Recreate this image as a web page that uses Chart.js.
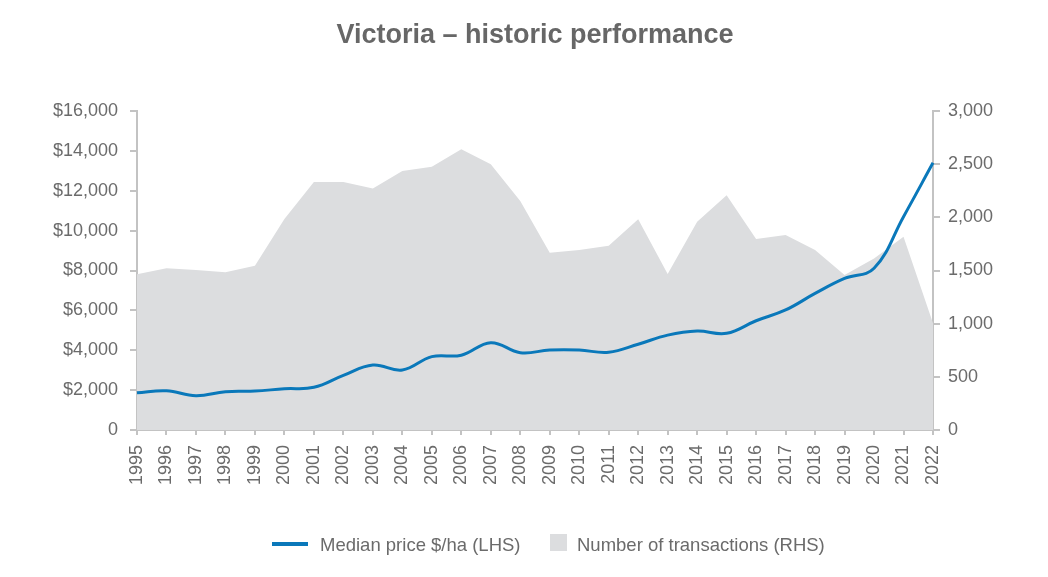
<!DOCTYPE html>
<html>
<head>
<meta charset="utf-8">
<script src="https://cdn.jsdelivr.net/npm/chart.js@4.4.1/dist/chart.umd.min.js"></script>
<style>
  html, body { margin: 0; padding: 0; background: #ffffff; }
  #wrap { position: relative; width: 1048px; height: 577px; font-family: "Liberation Sans", Arial, sans-serif; }
  #c { position: absolute; left: 0; top: 0; }
  #title { position: absolute; left: 137px; width: 796px; top: 21px; text-align: center; font-weight: bold; font-size: 27px; line-height: 27px; color: #676767; }
  .lg { position: absolute; font-size: 18.5px; line-height: 18px; color: #6b6b6b; white-space: nowrap; }
</style>
</head>
<body>
<div id="wrap">
  <canvas id="c" width="1048" height="577"></canvas>
  <div id="title">Victoria – historic performance</div>
  <div style="position:absolute;left:272px;top:542px;width:36px;height:4px;background:#0a78ba;"></div>
  <div class="lg" style="left:320px;top:536px;">Median price $/ha (LHS)</div>
  <div style="position:absolute;left:550px;top:534px;width:17px;height:17px;background:#dcdddf;"></div>
  <div class="lg" style="left:577px;top:536px;">Number of transactions (RHS)</div>
</div>
<script>
const years = ['1995','1996','1997','1998','1999','2000','2001','2002','2003','2004','2005','2006','2007','2008','2009','2010','2011','2012','2013','2014','2015','2016','2017','2018','2019','2020','2021','2022'];
const medianPrice = [1870, 1970, 1720, 1920, 1950, 2070, 2140, 2740, 3260, 3010, 3680, 3750, 4380, 3880, 4010, 4010, 3900, 4300, 4760, 4960, 4850, 5480, 6020, 6850, 7600, 8110, 10700, 13400];
const transactions = [1464, 1521, 1505, 1483, 1545, 1984, 2332, 2332, 2270, 2436, 2476, 2640, 2499, 2154, 1667, 1693, 1733, 1981, 1467, 1959, 2207, 1796, 1834, 1693, 1458, 1614, 1818, 1003];
const leftTicks = [0, 2000, 4000, 6000, 8000, 10000, 12000, 14000, 16000];
const rightTicks = [0, 500, 1000, 1500, 2000, 2500, 3000];

const axisColor = '#c3c3c3';
const textColor = '#6b6b6b';
const font = { family: '"Liberation Sans", Arial, sans-serif', size: 18 };

new Chart(document.getElementById('c'), {
  type: 'line',
  data: {
    labels: years,
    datasets: [
      {
        label: 'Median price $/ha (LHS)',
        data: medianPrice,
        yAxisID: 'y',
        borderColor: '#0a78ba',
        borderWidth: 3,
        pointRadius: 0,
        tension: 0.4,
        fill: false,
        order: 0
      },
      {
        label: 'Number of transactions (RHS)',
        data: transactions,
        yAxisID: 'y1',
        borderWidth: 0,
        borderColor: 'rgba(0,0,0,0)',
        backgroundColor: '#dcdddf',
        pointRadius: 0,
        tension: 0,
        fill: 'origin',
        order: 1
      }
    ]
  },
  options: {
    responsive: false,
    animation: false,
    layout: { padding: { top: 111, left: 0, right: 0, bottom: 0 } },
    plugins: { legend: { display: false }, title: { display: false }, tooltip: { enabled: false } },
    scales: {
      x: {
        offset: false,
        grid: { display: true, drawOnChartArea: false, drawTicks: true, tickLength: 5, color: axisColor, lineWidth: 2, offset: false },
        border: { display: true, color: axisColor, width: 2 },
        ticks: { autoSkip: false, minRotation: 90, maxRotation: 90, padding: 10, color: textColor, font: font },
        afterFit: (s) => { s.height = 147; }
      },
      y: {
        position: 'left',
        min: 0, max: 16000,
        afterBuildTicks: (s) => { s.ticks = leftTicks.map(v => ({ value: v })); },
        grid: { display: true, drawOnChartArea: false, drawTicks: true, tickLength: 7, color: axisColor, lineWidth: 2 },
        border: { display: true, color: axisColor, width: 2 },
        ticks: { padding: 12, color: textColor, font: font,
          callback: (v) => v === 0 ? '0' : '$' + v.toLocaleString('en-US') },
        afterFit: (s) => { s.width = 137; }
      },
      y1: {
        position: 'right',
        min: 0, max: 3000,
        afterBuildTicks: (s) => { s.ticks = rightTicks.map(v => ({ value: v })); },
        grid: { display: true, drawOnChartArea: false, drawTicks: true, tickLength: 7, color: axisColor, lineWidth: 2 },
        border: { display: true, color: axisColor, width: 2 },
        ticks: { padding: 8, color: textColor, font: font,
          callback: (v) => v.toLocaleString('en-US') },
        afterFit: (s) => { s.width = 115; }
      }
    }
  }
});
</script>
</body>
</html>
